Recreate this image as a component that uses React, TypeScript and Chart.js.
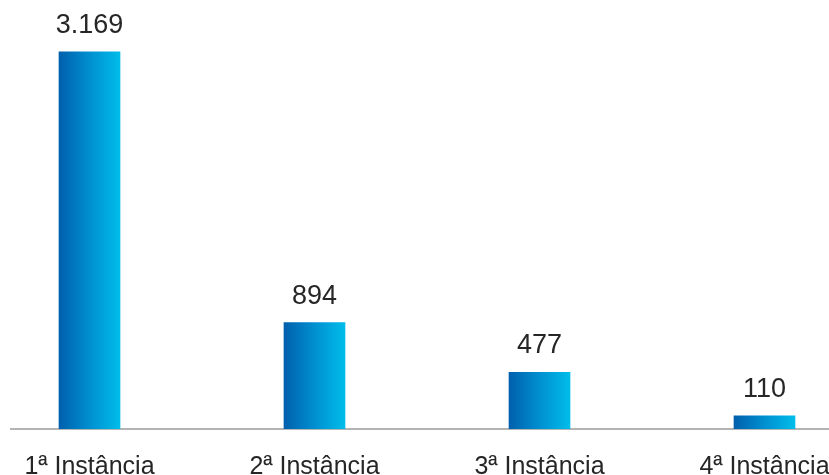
import React, { useEffect, useRef } from "react";
import { Chart, registerables } from "chart.js";

Chart.register(...registerables);

const categories = ["1ª Instância", "2ª Instância", "3ª Instância", "4ª Instância"];
const values = [3169, 894, 477, 110];
const valueLabels = ["3.169", "894", "477", "110"];

const FONT = "'Liberation Sans', Arial, Helvetica, sans-serif";
const TEXT = "#262626";

export default function App() {
  const ref = useRef<HTMLCanvasElement | null>(null);

  useEffect(() => {
    if (!ref.current) return;
    const baseline = {
      id: "baseline",
      beforeDatasetsDraw(chart: any) {
        const ctx = chart.ctx;
        const y = chart.scales.y.getPixelForValue(0);
        ctx.save();
        ctx.strokeStyle = "#b4b4b4";
        ctx.lineWidth = 2;
        ctx.beginPath();
        ctx.moveTo(33, y);
        ctx.lineTo(chart.width, y);
        ctx.stroke();
        ctx.restore();
      },
    };
    const valuePlugin = {
      id: "valueLabels",
      afterDatasetsDraw(chart: any) {
        const ctx = chart.ctx;
        const meta = chart.getDatasetMeta(0);
        ctx.save();
        ctx.font = `27px ${FONT}`;
        ctx.fillStyle = TEXT;
        ctx.textAlign = "center";
        ctx.textBaseline = "alphabetic";
        meta.data.forEach((bar: any, i: number) => {
          ctx.fillText(valueLabels[i], bar.x, bar.y - 19);
        });
        ctx.restore();
      },
    };
    const chart = new Chart(ref.current, {
      type: "bar",
      data: {
        labels: categories,
        datasets: [
          {
            data: values,
            barThickness: 61,
            borderWidth: 0,
            backgroundColor: (context: any) => {
              const c = context.chart;
              if (!c.chartArea || !c.scales.x) return "#0090d0";
              const cx = c.scales.x.getPixelForValue(context.dataIndex);
              const g = c.ctx.createLinearGradient(cx - 30.5, 0, cx + 30.5, 0);
              g.addColorStop(0, "#0060ad");
              g.addColorStop(0.5, "#008fd0");
              g.addColorStop(1, "#00bdea");
              return g;
            },
          },
        ],
      },
      options: {
        responsive: false,
        animation: false,
        layout: { padding: 0 },
        plugins: {
          legend: { display: false },
          tooltip: { enabled: false },
        },
        scales: {
          x: {
            grid: { display: false, drawTicks: false },
            border: { display: false },
            ticks: {
              color: TEXT,
              font: { family: FONT, size: 25 },
              padding: 23,
              maxRotation: 0,
              autoSkip: false,
            },
          },
          y: {
            display: false,
            min: 0,
            max: 3605,
          },
        },
      },
      plugins: [baseline, valuePlugin],
    });
    return () => chart.destroy();
  }, []);

  return (
    <div
      style={{
        position: "fixed",
        left: 0,
        top: 0,
        width: 829,
        height: 475,
        overflow: "hidden",
        background: "#fff",
      }}
    >
      <div style={{ position: "absolute", left: -23, top: 0, width: 900, height: 505 }}>
        <canvas ref={ref} width={900} height={505} />
      </div>
    </div>
  );
}
